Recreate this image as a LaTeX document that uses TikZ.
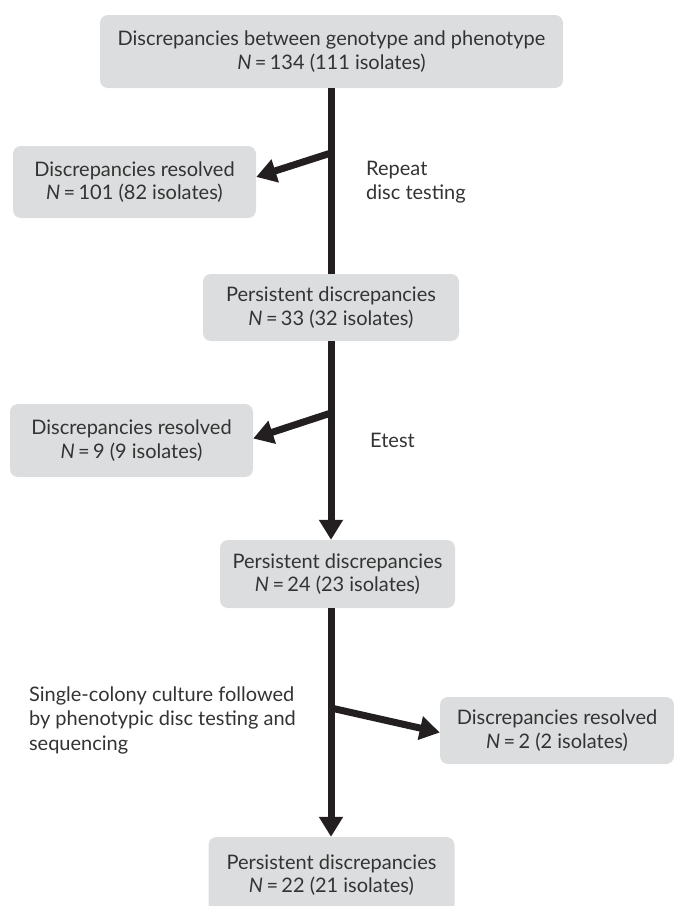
\documentclass[tikz,border=0pt]{standalone}
\usepackage{fontspec}
\setmainfont{Lato}
\usepackage{xcolor}
\usetikzlibrary{arrows.meta}
\definecolor{boxgray}{HTML}{DCDDDE}
\definecolor{inkblack}{HTML}{231F20}
\definecolor{textgray}{HTML}{333333}

\begin{document}
\begin{tikzpicture}[x=1pt, y=-1pt,
    box/.style={fill=boxgray, rounded corners=8pt, inner sep=0pt, align=center,
        text=textgray, font=\fontsize{20}{23.5}\selectfont},
    note/.style={inner sep=0pt, align=left, text=textgray,
        font=\fontsize{20}{24.5}\selectfont},
    flow/.style={draw=inkblack, line width=7pt},
    tip/.style={-{Triangle[length=20pt,width=23pt]}}]
\useasboundingbox (0,0) rectangle (673,906);

% boxes
\node[box, minimum width=463pt, minimum height=73pt] (start) at (331.5,51.5)
    {Discrepancies between genotype and phenotype\\\textit{N}\,=\,134 (111 isolates)};
\node[box, minimum width=243pt, minimum height=72pt] (res1) at (134.5,182)
    {Discrepancies resolved\\\textit{N}\,=\,101 (82 isolates)};
\node[box, minimum width=256pt, minimum height=67pt] (p33) at (331,307.5)
    {Persistent discrepancies\\\textit{N}\,=\,33 (32 isolates)};
\node[box, minimum width=243pt, minimum height=73pt] (res9) at (131.5,440.5)
    {Discrepancies resolved\\\textit{N}\,=\,9 (9 isolates)};
\node[box, minimum width=235pt, minimum height=68pt] (p24) at (337.5,574)
    {Persistent discrepancies\\\textit{N}\,=\,24 (23 isolates)};
\node[box, minimum width=234pt, minimum height=67pt] (res2) at (557,730.5)
    {Discrepancies resolved\\\textit{N}\,=\,2 (2 isolates)};
\node[box, minimum width=246pt, minimum height=76pt] (last) at (331.5,875)
    {Persistent discrepancies\\\textit{N}\,=\,22 (21 isolates)};

% step labels
\node[note, anchor=west] (repeat) at (366,182) {Repeat\\disc testing};
\node[note, anchor=west] (etest) at (370,440) {Etest};
\node[note, anchor=east] (single) at (296,720)
    {Single-colony culture followed\\by phenotypic disc testing and\\sequencing};

% branch points on the main line
\coordinate (b1) at (331,153);
\coordinate (b2) at (331,413);
\coordinate (b3) at (331,708);

% main line
\draw[flow] (start.south -| p33.south) -- (p33.north);
\draw[flow, tip] (p33.south) -- (p33.south |- p24.north);
\draw[flow, tip] (p33.south |- p24.south) -- (p33.south |- last.north);

% side arrows
\draw[flow, tip] (b1) -- ([yshift=5pt]res1.east);
\draw[flow, tip] (b2) -- ([yshift=2pt]res9.east);
\draw[flow, tip] (b3) -- ([yshift=-2pt]res2.west);
\end{tikzpicture}
\end{document}
